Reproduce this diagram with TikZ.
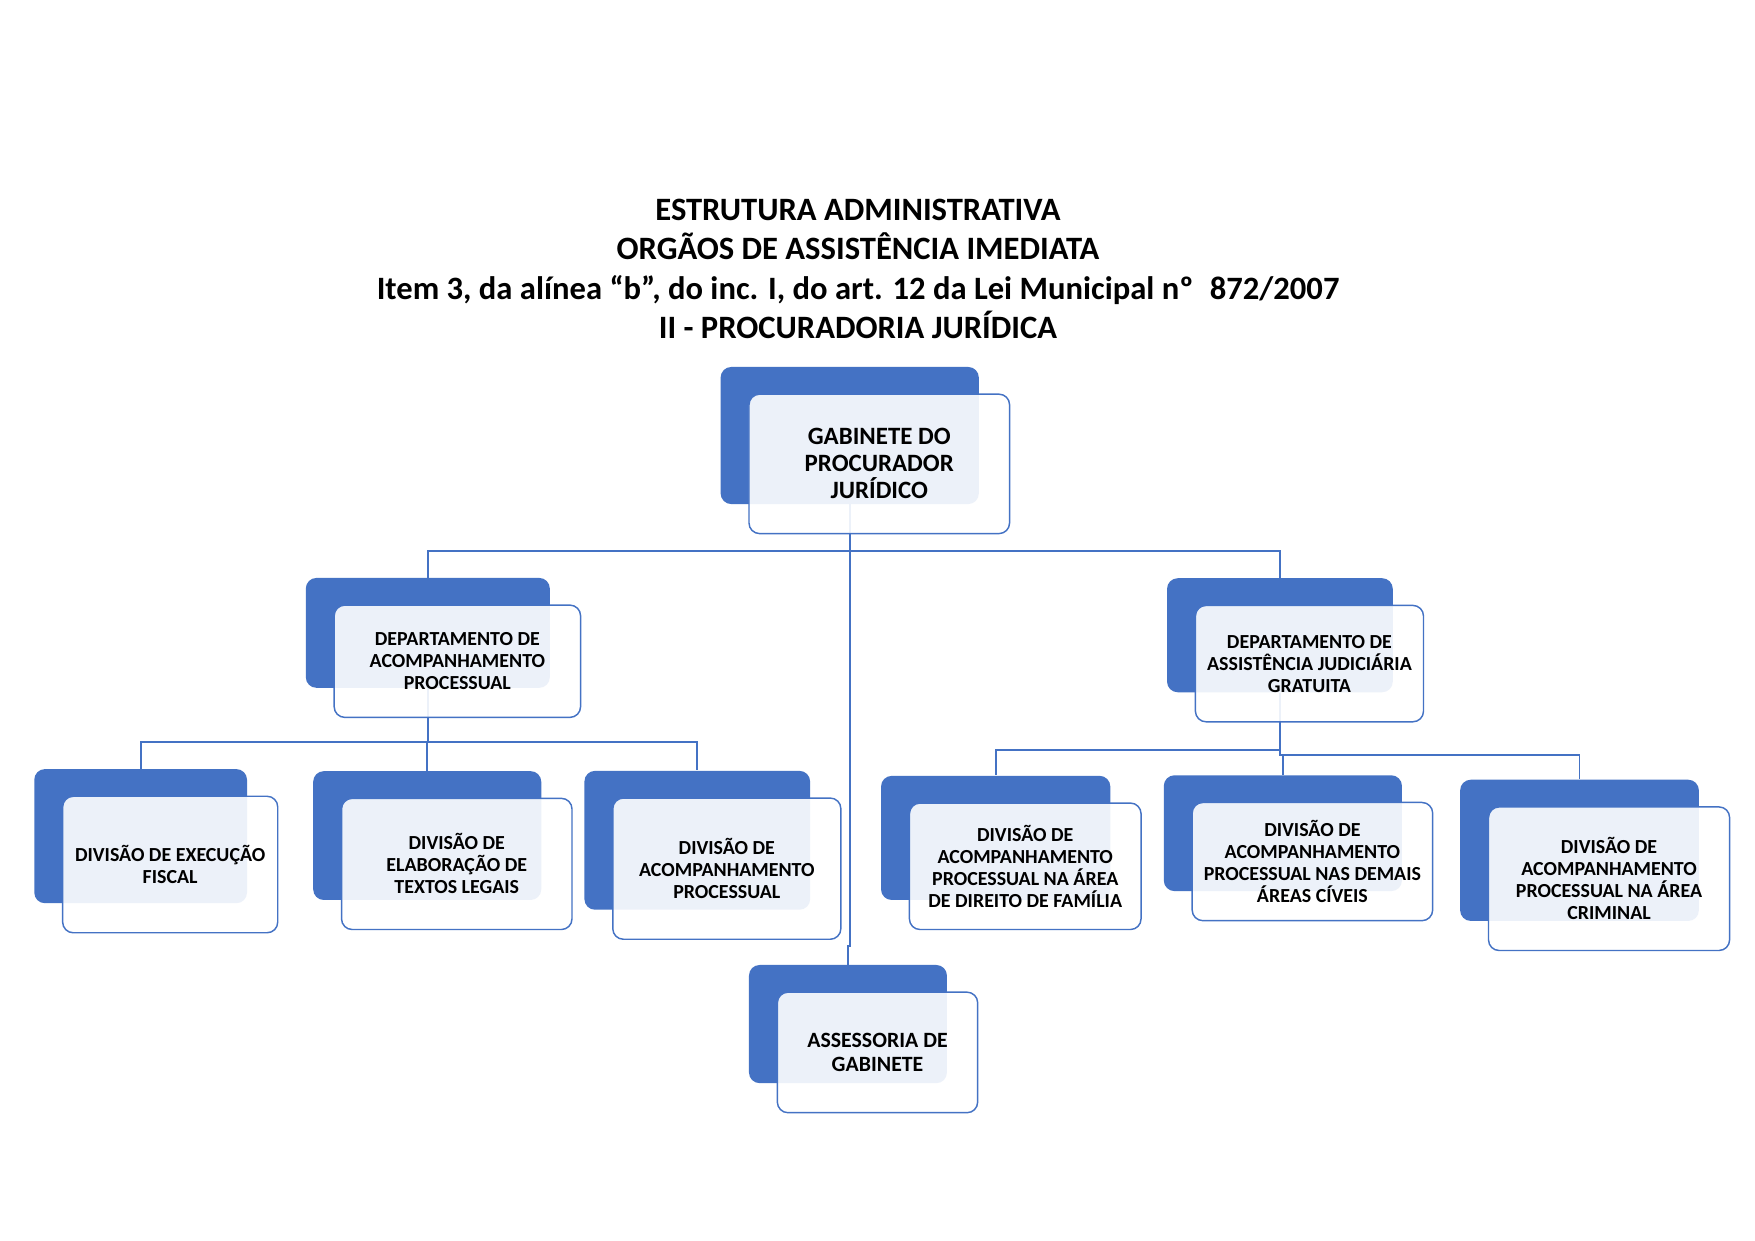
\documentclass[tikz,border=0pt]{standalone}
\usepackage{fontspec}
\setmainfont{Carlito}
\usepackage{xcolor}
\usepackage{tikz}
\usetikzlibrary{positioning}
\definecolor{officeblue}{HTML}{4472C4}

\begin{document}
\begin{tikzpicture}[
    back/.style={fill=officeblue, rounded corners=0.18cm, inner sep=0pt},
    card/.style={draw=officeblue, line width=0.7pt, fill=white, fill opacity=0.9, text opacity=1, rounded corners=0.18cm, align=center, inner sep=0pt, font=\bfseries\fontsize{9.6}{10.6}\selectfont},
    link/.style={draw=officeblue, line width=0.9pt}
]
\useasboundingbox[fill=white] (0,0) rectangle (29.7,-21);

\node[font=\bfseries\fontsize{15.7}{19}\selectfont, align=center] (title) at (14.52,-4.55)
    {ESTRUTURA ADMINISTRATIVA\\ORGÃOS DE ASSISTÊNCIA IMEDIATA\\Item 3, da alínea “b”, do inc. I, do art. 12 da Lei Municipal nº\enspace 872/2007\\II - PROCURADORIA JURÍDICA};

\node[back, minimum width=4.37cm, minimum height=2.32cm] (gab)       at (14.38,-7.37)  {};
\node[back, minimum width=4.13cm, minimum height=1.86cm] (dAcomp)    at (7.24,-10.71)  {};
\node[back, minimum width=3.82cm, minimum height=1.93cm] (dAssist)   at (21.66,-10.75) {};
\node[back, minimum width=3.60cm, minimum height=2.27cm] (divExec)   at (2.38,-14.15)  {};
\node[back, minimum width=3.86cm, minimum height=2.18cm] (divElab)   at (7.23,-14.14)  {};
\node[back, minimum width=3.82cm, minimum height=2.35cm] (divAcomp)  at (11.80,-14.22) {};
\node[back, minimum width=3.88cm, minimum height=2.10cm] (divFam)    at (16.85,-14.18) {};
\node[back, minimum width=4.03cm, minimum height=1.96cm] (divDemais) at (21.71,-14.10) {};
\node[back, minimum width=4.04cm, minimum height=2.39cm] (divCrim)   at (26.73,-14.39) {};
\node[back, minimum width=3.35cm, minimum height=2.00cm] (assess)    at (14.35,-17.33) {};

\coordinate (bus0)  at (0,-9.32);
\coordinate (jog)   at (0,-16.01);
\coordinate (busL)  at (0,-12.56);
\coordinate (busR1) at (0,-12.69);
\coordinate (busR2) at (0,-12.78);

\draw[link] (gab.south) -- (gab.south |- bus0) -| (dAcomp.north);
\draw[link] (gab.south |- bus0) -| (dAssist.north);
\draw[link] (gab.south) -- (gab.south |- jog) -| (assess.north);
\draw[link] (dAcomp.south) -- (dAcomp.south |- busL) -| (divExec.north);
\draw[link] (dAcomp.south |- busL) -| (divElab.north);
\draw[link] (dAcomp.south |- busL) -| (divAcomp.north);
\draw[link] (dAssist.south) -- (dAssist.south |- busR1) -| (divFam.north);
\draw[link] (dAssist.south) -- (dAssist.south |- busR2) -| (divDemais.north);
\draw[link] (dAssist.south |- busR2) -| (divCrim.north);

\node[card, minimum width=4.41cm, minimum height=2.36cm, font=\bfseries\fontsize{12}{13}\selectfont] (gabT) at ([shift={(0.5,-0.48)}]gab) {GABINETE DO\\PROCURADOR\\JURÍDICO};
\node[card, minimum width=4.17cm, minimum height=1.90cm] (dAcompT)    at ([shift={(0.5,-0.48)}]dAcomp)    {DEPARTAMENTO DE\\ACOMPANHAMENTO\\PROCESSUAL};
\node[card, minimum width=3.86cm, minimum height=1.97cm] (dAssistT)   at ([shift={(0.5,-0.48)}]dAssist)   {DEPARTAMENTO DE\\ASSISTÊNCIA JUDICIÁRIA\\GRATUITA};
\node[card, minimum width=3.64cm, minimum height=2.31cm] (divExecT)   at ([shift={(0.5,-0.48)}]divExec)   {DIVISÃO DE EXECUÇÃO\\FISCAL};
\node[card, minimum width=3.90cm, minimum height=2.22cm] (divElabT)   at ([shift={(0.5,-0.48)}]divElab)   {DIVISÃO DE\\ELABORAÇÃO DE\\TEXTOS LEGAIS};
\node[card, minimum width=3.86cm, minimum height=2.39cm] (divAcompT)  at ([shift={(0.5,-0.48)}]divAcomp)  {DIVISÃO DE\\ACOMPANHAMENTO\\PROCESSUAL};
\node[card, minimum width=3.92cm, minimum height=2.14cm] (divFamT)    at ([shift={(0.5,-0.48)}]divFam)    {DIVISÃO DE\\ACOMPANHAMENTO\\PROCESSUAL NA ÁREA\\DE DIREITO DE FAMÍLIA};
\node[card, minimum width=4.07cm, minimum height=2.00cm] (divDemaisT) at ([shift={(0.5,-0.48)}]divDemais) {DIVISÃO DE\\ACOMPANHAMENTO\\PROCESSUAL NAS DEMAIS\\ÁREAS CÍVEIS};
\node[card, minimum width=4.08cm, minimum height=2.43cm] (divCrimT)   at ([shift={(0.5,-0.48)}]divCrim)   {DIVISÃO DE\\ACOMPANHAMENTO\\PROCESSUAL NA ÁREA\\CRIMINAL};
\node[card, minimum width=3.39cm, minimum height=2.04cm, font=\bfseries\fontsize{10.5}{11.5}\selectfont] (assessT) at ([shift={(0.5,-0.48)}]assess) {ASSESSORIA DE\\GABINETE};
\end{tikzpicture}
\end{document}
